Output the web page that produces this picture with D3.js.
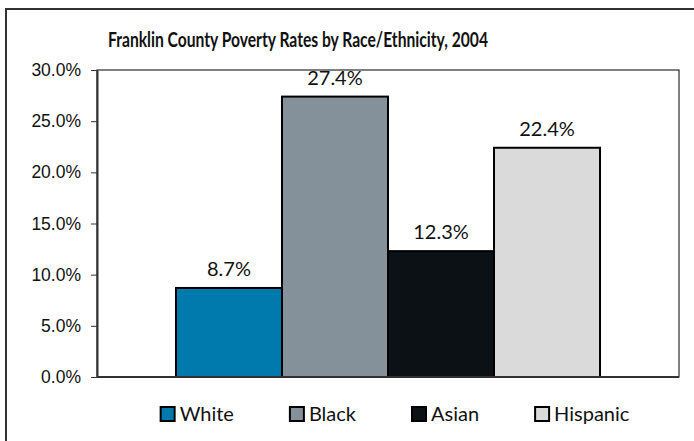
<!DOCTYPE html>
<html>
<head>
<meta charset="utf-8">
<script src="https://cdn.jsdelivr.net/npm/d3@7"></script>
<style>
  body { margin: 0; background: #fff; }
  svg { display: block; font-family: "Lato", "Open Sans", sans-serif; }
</style>
</head>
<body>
<svg></svg>
<script>
var races = ["White", "Black", "Asian", "Hispanic"]
var rates = [8.7, 27.4, 12.3, 22.4]
var colors = ["#007aad", "#85919a", "#0c1115", "#dadada"]
var yTicks = [0, 5, 10, 15, 20, 25, 30]
var title = "Franklin County Poverty Rates by Race/Ethnicity, 2004"

var width = 694
var height = 441
var margin = {top: 70, right: 15, bottom: 64, left: 97}
var innerW = width - margin.left - margin.right
var innerH = height - margin.top - margin.bottom

var svg = d3.select("svg")
    .attr("width", width)
    .attr("height", height)

// outer frame, runs off the right and bottom edge
svg.append("rect")
    .attr("x", 6)
    .attr("y", 9)
    .attr("width", width + 10)
    .attr("height", height + 10)
    .attr("fill", "none")
    .attr("stroke", "#333")
    .attr("stroke-width", 2)

// title is a narrow bold face in the original, squeeze it to the same width
svg.append("text")
    .attr("x", 108)
    .attr("y", 47)
    .attr("textLength", 380)
    .attr("lengthAdjust", "spacingAndGlyphs")
    .style("font-weight", "bold")
    .style("font-size", "21px")
    .attr("fill", "#111")
    .text(title)

var g = svg.append("g")
    .attr("transform", `translate(${margin.left},${margin.top})`)

var xScale = d3.scaleBand().domain(races).range([0, innerW]).paddingInner(0).paddingOuter(0.745)
var yScale = d3.scaleLinear().domain([0, 30]).range([innerH, 0])

// plot frame (top + right)
g.append("rect")
    .attr("width", innerW)
    .attr("height", innerH)
    .attr("fill", "none")
    .attr("stroke", "#000")
    .attr("stroke-width", 1)

g.selectAll(".bar")
  .data(races)
  .enter().append("rect")
  .attr("class", "bar")
  .attr("x", d => xScale(d))
  .attr("y", (d, i) => yScale(rates[i]))
  .attr("width", xScale.bandwidth())
  .attr("height", (d, i) => innerH - yScale(rates[i]))
  .attr("fill", (d, i) => colors[i])
  .attr("stroke", "#000")
  .attr("stroke-width", 2)

g.selectAll(".val")
  .data(races)
  .enter().append("text")
  .attr("class", "val")
  .attr("x", d => xScale(d) + xScale.bandwidth() / 2)
  .attr("y", (d, i) => yScale(rates[i]) - 12)
  .attr("text-anchor", "middle")
  .style("font-size", "20px")
  .attr("fill", "#111")
  .text((d, i) => rates[i].toFixed(1) + "%")

var yAxis = d3.axisLeft(yScale)
    .tickValues(yTicks)
    .tickFormat(d => d.toFixed(1) + "%")
    .tickSizeInner(6)
    .tickSizeOuter(0)
    .tickPadding(10)

var ya = g.append("g").attr("class", "y axis").call(yAxis)
ya.select(".domain").attr("stroke", "#333").attr("stroke-width", 2)
ya.selectAll(".tick line").attr("stroke", "#333")
ya.selectAll(".tick text").style("font-size", "17.5px").attr("fill", "#111").attr("font-family", null)

// x baseline
g.append("line")
    .attr("x1", 0)
    .attr("x2", innerW)
    .attr("y1", innerH)
    .attr("y2", innerH)
    .attr("stroke", "#333")
    .attr("stroke-width", 2)

// legend
var legend = svg.append("g").attr("transform", "translate(0,414)")
var items = legend.selectAll(".item")
  .data(races)
  .enter().append("g")
  .attr("class", "item")

items.append("rect")
  .attr("x", 0)
  .attr("y", -7)
  .attr("width", 14)
  .attr("height", 14)
  .attr("fill", (d, i) => colors[i])
  .attr("stroke", "#000")
  .attr("stroke-width", 2)

items.append("text")
  .attr("x", 19)
  .attr("dy", "0.35em")
  .style("font-size", "20px")
  .attr("fill", "#111")
  .text(d => d)

var xPos = 0
var offsets = []
items.each(function () {
  offsets.push(xPos)
  xPos += 19 + this.querySelector("text").getComputedTextLength() + 56
})
var legendW = xPos - 56
var legendStart = margin.left + innerW / 2 + 7 - legendW / 2
items.attr("transform", (d, i) => `translate(${legendStart + offsets[i]},0)`)
</script>
</body>
</html>
